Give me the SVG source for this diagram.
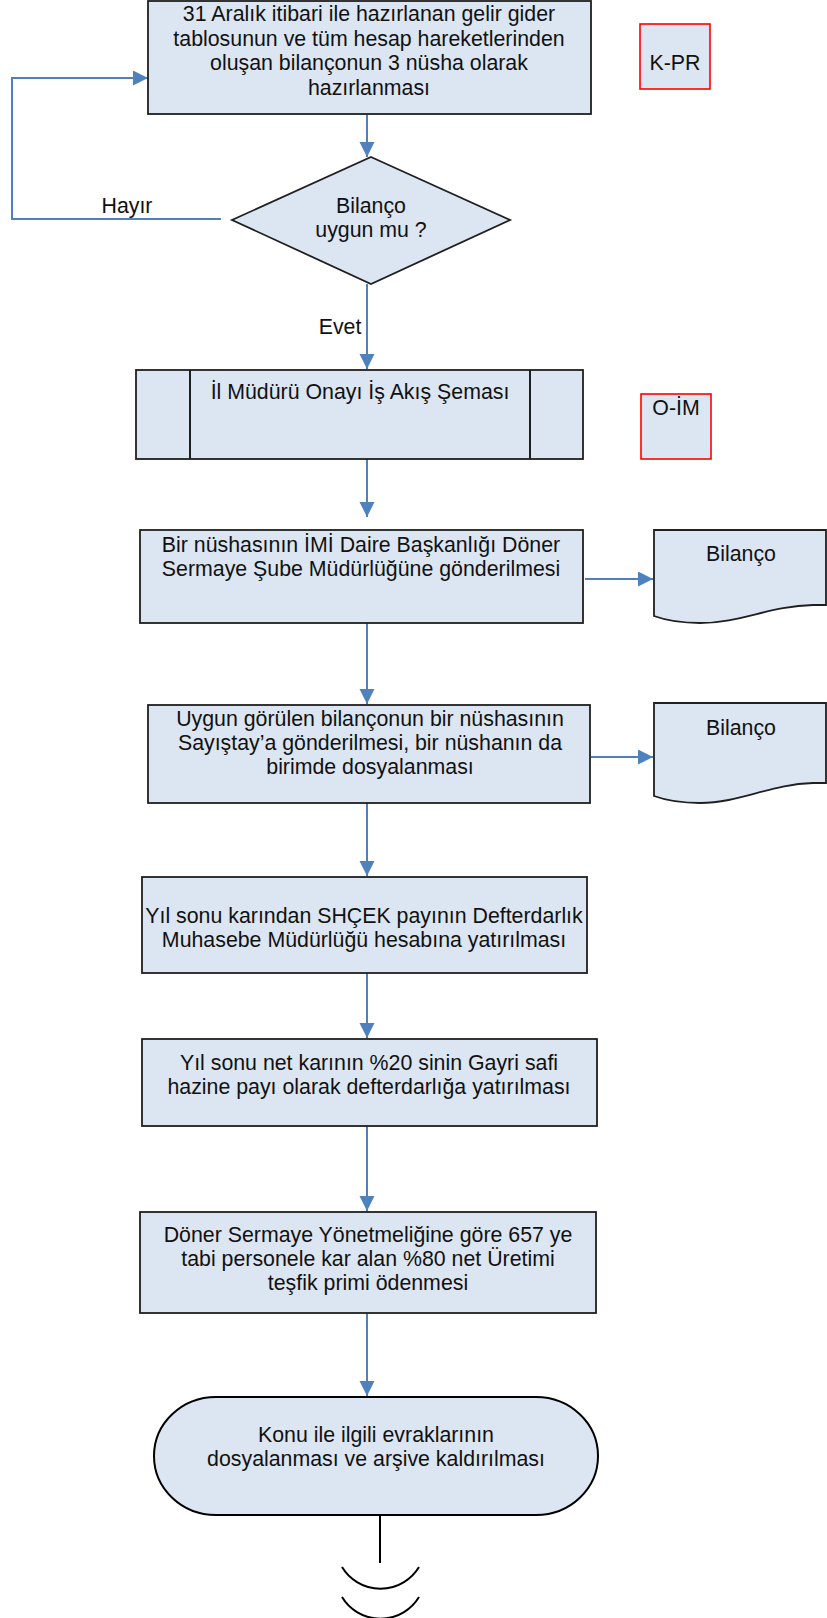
<svg xmlns="http://www.w3.org/2000/svg" width="827" height="1618" viewBox="0 0 827 1618">
<style>
.box{fill:#dce6f2;stroke:#1f1f1f;stroke-width:1.8}
.tag{fill:#dce6f2;stroke:#ff0000;stroke-width:1.6}
.t{font-family:"Liberation Sans",Arial,sans-serif;font-size:21.33px;fill:#111;text-anchor:middle}
.c{fill:none;stroke:#4f81bd;stroke-width:2}
.k{fill:none;stroke:#000;stroke-width:2}
</style>
<defs>
<marker id="ah" markerUnits="userSpaceOnUse" markerWidth="16" markerHeight="16" refX="15" refY="7.5" orient="auto">
<path d="M0,0 L15,7.5 L0,15 z" fill="#4f81bd"/>
</marker>
</defs>
<rect width="827" height="1618" fill="#fff"/>
<g id="connectors">
<line class="c" x1="367" y1="115" x2="367" y2="157" marker-end="url(#ah)"/>
<polyline class="c" points="221,219 12,219 12,78 148,78" marker-end="url(#ah)"/>
<line class="c" x1="367" y1="284" x2="367" y2="369" marker-end="url(#ah)"/>
<line class="c" x1="367" y1="459" x2="367" y2="517" marker-end="url(#ah)"/>
<line class="c" x1="585" y1="579" x2="653" y2="579" marker-end="url(#ah)"/>
<line class="c" x1="367" y1="623" x2="367" y2="704" marker-end="url(#ah)"/>
<line class="c" x1="591" y1="757" x2="653" y2="757" marker-end="url(#ah)"/>
<line class="c" x1="367" y1="803" x2="367" y2="876" marker-end="url(#ah)"/>
<line class="c" x1="367" y1="973" x2="367" y2="1038" marker-end="url(#ah)"/>
<line class="c" x1="367" y1="1126" x2="367" y2="1211" marker-end="url(#ah)"/>
<line class="c" x1="367" y1="1313" x2="367" y2="1396" marker-end="url(#ah)"/>
<line class="k" x1="380" y1="1515" x2="380" y2="1563"/>
<path class="k" d="M342,1567 A45,45 0 0 0 419,1567"/>
<path class="k" d="M342,1597 A45,45 0 0 0 419,1597"/>
<text class="t" x="127" y="213">Hayır</text>
<text class="t" x="340" y="334">Evet</text>
</g>
<g id="n1">
<rect class="box" x="148" y="1" width="443" height="113"/>
<text class="t" x="369" y="21">31 Aralık itibari ile hazırlanan gelir gider</text>
<text class="t" x="369" y="45.5">tablosunun ve tüm hesap hareketlerinden</text>
<text class="t" x="369" y="70">oluşan bilançonun 3 nüsha olarak</text>
<text class="t" x="369" y="94.5">hazırlanması</text>
</g>
<g id="kpr">
<rect class="tag" x="640" y="24" width="70" height="65"/>
<text class="t" x="675" y="70">K-PR</text>
</g>
<g id="d1">
<polygon class="box" points="371,157 510,220 371,284 232,220"/>
<text class="t" x="371" y="213">Bilanço</text>
<text class="t" x="371" y="237">uygun mu ?</text>
</g>
<g id="n2">
<rect class="box" x="136" y="370" width="447" height="89" stroke-width="2.4"/>
<line x1="190" y1="370" x2="190" y2="459" stroke="#1f1f1f" stroke-width="2"/>
<line x1="530" y1="370" x2="530" y2="459" stroke="#1f1f1f" stroke-width="2"/>
<text class="t" x="360" y="399">İl Müdürü Onayı İş Akış Şeması</text>
</g>
<g id="oim">
<rect class="tag" x="641" y="394" width="70" height="65"/>
<text class="t" x="676" y="415">O-İM</text>
</g>
<g id="n3">
<rect class="box" x="140" y="530" width="443" height="93"/>
<text class="t" x="361" y="552">Bir nüshasının İMİ Daire Başkanlığı Döner</text>
<text class="t" x="361" y="576">Sermaye Şube Müdürlüğüne gönderilmesi</text>
</g>
<g id="doc1">
<path class="box" d="M654,530 H826 V605 H813 C770,606 740,623 700,623 C680,623 665,620 654,616 Z"/>
<text class="t" x="741" y="561">Bilanço</text>
</g>
<g id="n4">
<rect class="box" x="148" y="705" width="442" height="98"/>
<text class="t" x="370" y="726">Uygun görülen bilançonun bir nüshasının</text>
<text class="t" x="370" y="750">Sayıştay’a gönderilmesi, bir nüshanın da</text>
<text class="t" x="370" y="774">birimde dosyalanması</text>
</g>
<g id="doc2">
<path class="box" d="M654,703 H826 V783 H813 C770,784 740,803 700,803 C680,803 665,800 654,796 Z"/>
<text class="t" x="741" y="735">Bilanço</text>
</g>
<g id="n5">
<rect class="box" x="142" y="877" width="445" height="96"/>
<text class="t" x="364" y="923">Yıl sonu karından SHÇEK payının Defterdarlık</text>
<text class="t" x="364" y="947">Muhasebe Müdürlüğü hesabına yatırılması</text>
</g>
<g id="n6">
<rect class="box" x="142" y="1039" width="455" height="87"/>
<text class="t" x="369" y="1070">Yıl sonu net karının %20 sinin Gayri safi</text>
<text class="t" x="369" y="1094">hazine payı olarak defterdarlığa yatırılması</text>
</g>
<g id="n7">
<rect class="box" x="140" y="1212" width="456" height="101"/>
<text class="t" x="368" y="1242">Döner Sermaye Yönetmeliğine göre 657 ye</text>
<text class="t" x="368" y="1266">tabi personele kar alan %80 net Üretimi</text>
<text class="t" x="368" y="1290">teşfik primi ödenmesi</text>
</g>
<g id="end">
<rect x="154" y="1397" width="444" height="118" rx="62" ry="59" fill="#dce6f2" stroke="#000" stroke-width="2"/>
<text class="t" x="376" y="1442">Konu ile ilgili evraklarının</text>
<text class="t" x="376" y="1466">dosyalanması ve arşive kaldırılması</text>
</g>
</svg>
